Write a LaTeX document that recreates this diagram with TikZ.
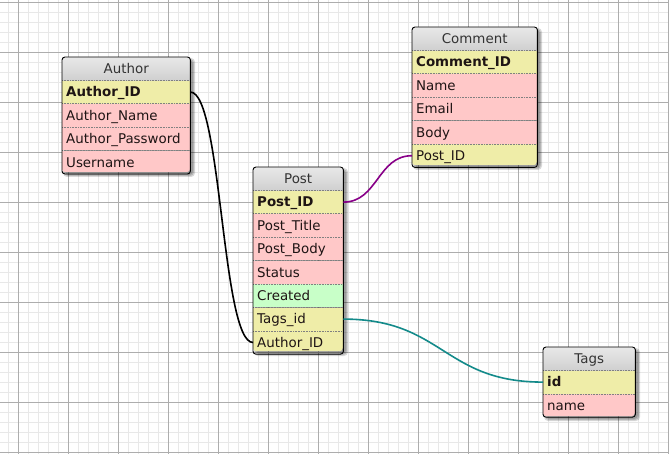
\documentclass[tikz,border=0pt]{standalone}
\usepackage{fontspec}
\setmainfont{DejaVu Sans}
\usetikzlibrary{calc}

\definecolor{gridminor}{HTML}{E8E8E8}
\definecolor{gridmajor}{HTML}{ADADAD}
\definecolor{hdrtop}{HTML}{E8E8E8}
\definecolor{hdrbot}{HTML}{D0D0D0}
\definecolor{keyc}{HTML}{EFEDA8}
\definecolor{plainc}{HTML}{FFC8C8}
\definecolor{datec}{HTML}{C8FFC8}
\definecolor{txt}{HTML}{1E1414}
\definecolor{hdrtxt}{HTML}{333333}
\definecolor{linkpurple}{HTML}{880088}
\definecolor{linkteal}{HTML}{138A8A}

% soft drop shadow behind a table: x, y, width, height
\newcommand\tblshadow[4]{%
  \foreach \k in {0,1,2}{%
    \fill[black, opacity=0.15, rounded corners=4pt]
      (#1+3-\k,#2+3-\k) rectangle (#1+#3+3+\k,#2+#4+3+\k);}}

\tikzset{
  cell/.style={anchor=north west, minimum height=23pt, inner xsep=4pt,
    inner ysep=0pt, text width=#1, align=left, text height=11.5pt,
    text depth=2pt, text=txt, font=\fontsize{13.4}{15}\selectfont},
  hdr/.style={cell=#1, align=center, top color=hdrtop, bottom color=hdrbot,
    text=hdrtxt},
  keyrow/.style={fill=keyc},
  plainrow/.style={fill=plainc},
  daterow/.style={fill=datec},
  sep/.style={draw=black!50, densely dotted, line width=0.6pt},
  tblframe/.style={draw=black, line width=0.9pt, rounded corners=3pt},
  link/.style={line width=1.6pt},
}

\begin{document}
\begin{tikzpicture}[x=1pt, y=-1pt]
\useasboundingbox (0,0) rectangle (669,454);
\fill[white] (0,0) rectangle (669,454);

% background grid
\foreach \x in {8,18,...,668} \draw[gridminor, line width=0.7pt] (\x,0) -- (\x,454);
\foreach \y in {2,12,...,452} \draw[gridminor, line width=0.7pt] (0,\y) -- (669,\y);
\foreach \x in {18,68,...,668} \draw[gridmajor, line width=0.8pt] (\x,0) -- (\x,454);
\foreach \y in {2,52,...,452} \draw[gridmajor, line width=0.8pt] (0,\y) -- (669,\y);

% ---------------- Author
\tblshadow{62}{57}{128}{115}
\begin{scope}
  \clip[rounded corners=3pt] (62,57) rectangle ++(128,115);
  \node[hdr=120pt] (author) at (62,57) {Author};
  \node[cell=120pt, keyrow] (author-id) at (author.south west) {\textbf{Author\_ID}};
  \node[cell=120pt, plainrow] (author-name) at (author-id.south west) {Author\_Name};
  \node[cell=120pt, plainrow] (author-pass) at (author-name.south west) {Author\_Password};
  \node[cell=120pt, plainrow] (author-user) at (author-pass.south west) {Username};
  \foreach \n in {author,author-id,author-name,author-pass}
    \draw[sep] (\n.south west) -- (\n.south east);
\end{scope}
\draw[tblframe] (author.north west) rectangle (author-user.south east);

% ---------------- Post
\tblshadow{253}{167}{90}{184}
\begin{scope}
  \clip[rounded corners=3pt] (253,167) rectangle ++(90,184);
  \node[hdr=82pt] (post) at (253,167) {Post};
  \node[cell=82pt, keyrow] (post-id) at (post.south west) {\textbf{Post\_ID}};
  \node[cell=82pt, plainrow] (post-title) at (post-id.south west) {Post\_Title};
  \node[cell=82pt, plainrow] (post-body) at (post-title.south west) {Post\_Body};
  \node[cell=82pt, plainrow] (post-status) at (post-body.south west) {Status};
  \node[cell=82pt, daterow] (post-created) at (post-status.south west) {Created};
  \node[cell=82pt, keyrow] (post-tags) at (post-created.south west) {Tags\_id};
  \node[cell=82pt, keyrow] (post-author) at (post-tags.south west) {Author\_ID};
  \foreach \n in {post,post-id,post-title,post-body,post-status,post-created,post-tags}
    \draw[sep] (\n.south west) -- (\n.south east);
\end{scope}
\draw[tblframe] (post.north west) rectangle (post-author.south east);

% ---------------- Comment
\tblshadow{412}{27}{125}{138}
\begin{scope}
  \clip[rounded corners=3pt] (412,27) rectangle ++(125,138);
  \node[hdr=117pt] (comment) at (412,27) {Comment};
  \node[cell=117pt, keyrow] (comment-id) at (comment.south west) {\textbf{Comment\_ID}};
  \node[cell=117pt, plainrow] (comment-name) at (comment-id.south west) {Name};
  \node[cell=117pt, plainrow] (comment-email) at (comment-name.south west) {Email};
  \node[cell=117pt, plainrow] (comment-body) at (comment-email.south west) {Body};
  \node[cell=117pt, keyrow] (comment-post) at (comment-body.south west) {Post\_ID};
  \foreach \n in {comment,comment-id,comment-name,comment-email,comment-body}
    \draw[sep] (\n.south west) -- (\n.south east);
\end{scope}
\draw[tblframe] (comment.north west) rectangle (comment-post.south east);

% ---------------- Tags
\tblshadow{543}{347}{92}{69}
\begin{scope}
  \clip[rounded corners=3pt] (543,347) rectangle ++(92,69);
  \node[hdr=84pt] (tags) at (543,347) {Tags};
  \node[cell=84pt, keyrow] (tags-id) at (tags.south west) {\textbf{id}};
  \node[cell=84pt, plainrow] (tags-name) at (tags-id.south west) {name};
  \foreach \n in {tags,tags-id}
    \draw[sep] (\n.south west) -- (\n.south east);
\end{scope}
\draw[tblframe] (tags.north west) rectangle (tags-name.south east);

% ---------------- relations
\coordinate (m1) at ($(author-id.east)!0.5!(post-author.west)$);
\draw[link, black] (author-id.east)
  .. controls (m1 |- author-id.east) and (m1 |- post-author.west) .. (post-author.west);

\coordinate (m2) at ($(post-id.east)!0.5!(comment-post.west)$);
\draw[link, linkpurple] (post-id.east)
  .. controls (m2 |- post-id.east) and (m2 |- comment-post.west) .. (comment-post.west);

\coordinate (m3) at ($(post-tags.east)!0.5!(tags-id.west)$);
\draw[link, linkteal] (post-tags.east)
  .. controls (m3 |- post-tags.east) and (m3 |- tags-id.west) .. (tags-id.west);
\end{tikzpicture}
\end{document}
